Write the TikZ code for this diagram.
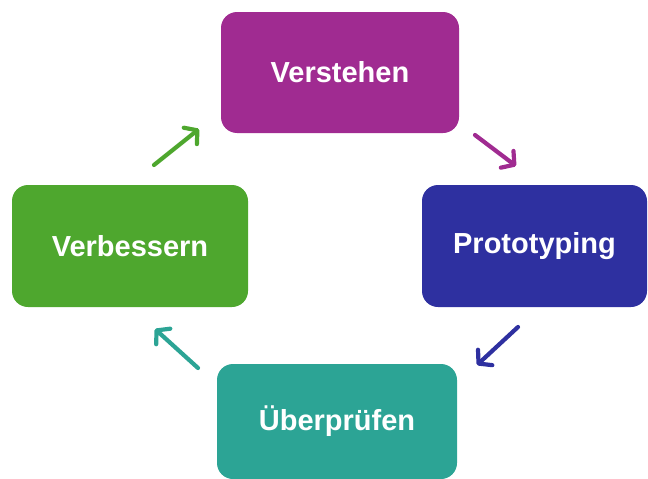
\documentclass[tikz,border=0pt]{standalone}
\usepackage{fontspec}
\setmainfont{Liberation Sans}
\usetikzlibrary{arrows.meta}

\definecolor{lila}{RGB}{160,43,145}
\definecolor{dunkelblau}{RGB}{46,48,160}
\definecolor{gruen}{RGB}{78,167,46}
\definecolor{tuerkis}{RGB}{44,164,149}

\begin{document}
\begin{tikzpicture}[x=1pt,y=-1pt,
    phase/.style={rounded corners=16pt, text=white, inner sep=0pt,
      font=\fontsize{29}{34}\selectfont\bfseries},
    pfeil/.style={line width=4.2pt, line cap=round,
      -{Straight Barb[length=9pt,width=21pt,line cap=round,line join=round]}}]
  \useasboundingbox (0,0) rectangle (648,479);

  % die vier Phasen
  \node[phase, fill=lila, minimum width=238pt, minimum height=121pt] (verstehen) at (340,72.5) {Verstehen};
  \node[phase, fill=dunkelblau, minimum width=225pt, minimum height=122pt] (prototyping) at (534.5,246) {Prototyping};
  \node[phase, fill=gruen, minimum width=236pt, minimum height=122pt] (verbessern) at (130,246) {Verbessern};
  \node[phase, fill=tuerkis, minimum width=240pt, minimum height=115pt] (pruefen) at (337,421.5) {Überprüfen};

  % Pfeile im Uhrzeigersinn
  \coordinate (a1) at (475,135);  \coordinate (b1) at (516,166);
  \coordinate (a2) at (518,327);  \coordinate (b2) at (477,365);
  \coordinate (a3) at (198,368);  \coordinate (b3) at (155,329);
  \coordinate (a4) at (154,165);  \coordinate (b4) at (199,129);

  \draw[pfeil, lila] (a1) -- (b1);
  \draw[pfeil, dunkelblau] (a2) -- (b2);
  \draw[pfeil, tuerkis] (a3) -- (b3);
  \draw[pfeil, gruen] (a4) -- (b4);
\end{tikzpicture}
\end{document}
